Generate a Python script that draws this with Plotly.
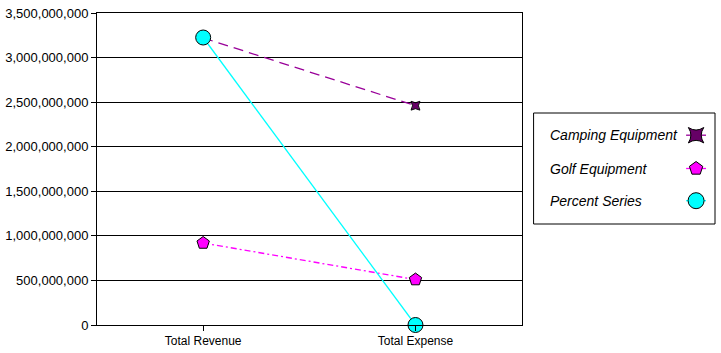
import plotly.graph_objects as go

categories = ["Total Revenue", "Total Expense"]
series_names = ["Camping Equipment", "Golf Equipment", "Percent Series"]
camping = [3220000000, 2460000000]
golf = [920000000, 510000000]
percent = [3225000000, 0]
y_ticks = [0, 500000000, 1000000000, 1500000000, 2000000000, 2500000000, 3000000000, 3500000000]

W, H = 721, 353
L, R, T, B = 95, 5, 13, 28
PW = W - L - R
PH = H - T - B
plot_right = 521

font = "Liberation Sans, Arial, sans-serif"

styles = [
    dict(color="#990099", dash="10px,6px", width=1.3,
         marker=dict(symbol="star-square", color="#660066", size=8, line=dict(color="black", width=1)),
         lmarker=dict(symbol="star-square", color="#660066", size=14, line=dict(color="black", width=1))),
    dict(color="#FF00FF", dash="6px,3px,2px,3px", width=1.3,
         marker=dict(symbol="pentagon", color="#FF00FF", size=13, line=dict(color="black", width=1)),
         lmarker=dict(symbol="pentagon", color="#FF00FF", size=14, line=dict(color="black", width=1))),
    dict(color="#00FFFF", dash="solid", width=1.3,
         marker=dict(symbol="circle", color="#00FFFF", size=15, line=dict(color="black", width=1)),
         lmarker=dict(symbol="circle", color="#00FFFF", size=16, line=dict(color="black", width=1))),
]

fig = go.Figure()
for name, vals, st in zip(series_names, [camping, golf, percent], styles):
    fig.add_trace(go.Scatter(
        x=categories, y=vals, name=name, mode="lines+markers",
        line=dict(color=st["color"], dash=st["dash"], width=st["width"]),
        marker=st["marker"], cliponaxis=False, showlegend=False,
        xaxis="x", yaxis="y"))

# custom legend (symbols on the right, as in the reference)
legend_rows = [0.8, 0.5, 0.21]
for name, st, ry in zip(series_names, styles, legend_rows):
    fig.add_trace(go.Scatter(
        x=[-1, 0, 1], y=[ry, ry, ry], mode="lines",
        line=dict(color=st["color"], width=1.3), showlegend=False,
        hoverinfo="skip", xaxis="x2", yaxis="y2"))
    fig.add_trace(go.Scatter(
        x=[0], y=[ry], mode="markers", marker=st["lmarker"], showlegend=False,
        hoverinfo="skip", xaxis="x2", yaxis="y2", cliponaxis=False))
    fig.add_annotation(x=(547 - L) / PW, xref="paper", y=ry, yref="y2",
                       text=name, showarrow=False, xanchor="left", yanchor="middle",
                       font=dict(family=font, size=14, color="black", style="italic"))

box_x0, box_x1, box_y0, box_y1 = 533, 715, 113, 224
fig.add_shape(type="rect", xref="paper", yref="paper",
              x0=(box_x0 - L) / PW, x1=(box_x1 - L) / PW,
              y0=(T + PH - box_y1) / PH, y1=(T + PH - box_y0) / PH,
              line=dict(color="black", width=1), fillcolor="rgba(0,0,0,0)")

fig.update_layout(
    width=W, height=H,
    margin=dict(l=L, r=R, t=T, b=B),
    paper_bgcolor="white", plot_bgcolor="white",
    font=dict(family=font, size=12, color="black"),
    xaxis=dict(domain=[0, (plot_right - L) / PW], type="category",
               showline=True, linecolor="black", linewidth=1, mirror=True,
               ticks="outside", ticklen=5, tickcolor="black", showgrid=False,
               range=[-0.5, 1.5], tickfont=dict(size=12), zeroline=False),
    yaxis=dict(range=[0, 3500000000], tickvals=y_ticks, tickformat=",d",
               showline=True, linecolor="black", linewidth=1, mirror=True,
               ticks="outside", ticklen=5, tickcolor="black",
               showgrid=True, gridcolor="black", gridwidth=1, zeroline=False,
               tickfont=dict(size=13)),
    xaxis2=dict(domain=[(686 - L) / PW, (706 - L) / PW], range=[-1, 1],
                visible=False, anchor="y2"),
    yaxis2=dict(domain=[(T + PH - box_y1) / PH, (T + PH - box_y0) / PH], range=[0, 1],
                visible=False, anchor="x2"),
    showlegend=False,
)

fig.write_html("out.html")
